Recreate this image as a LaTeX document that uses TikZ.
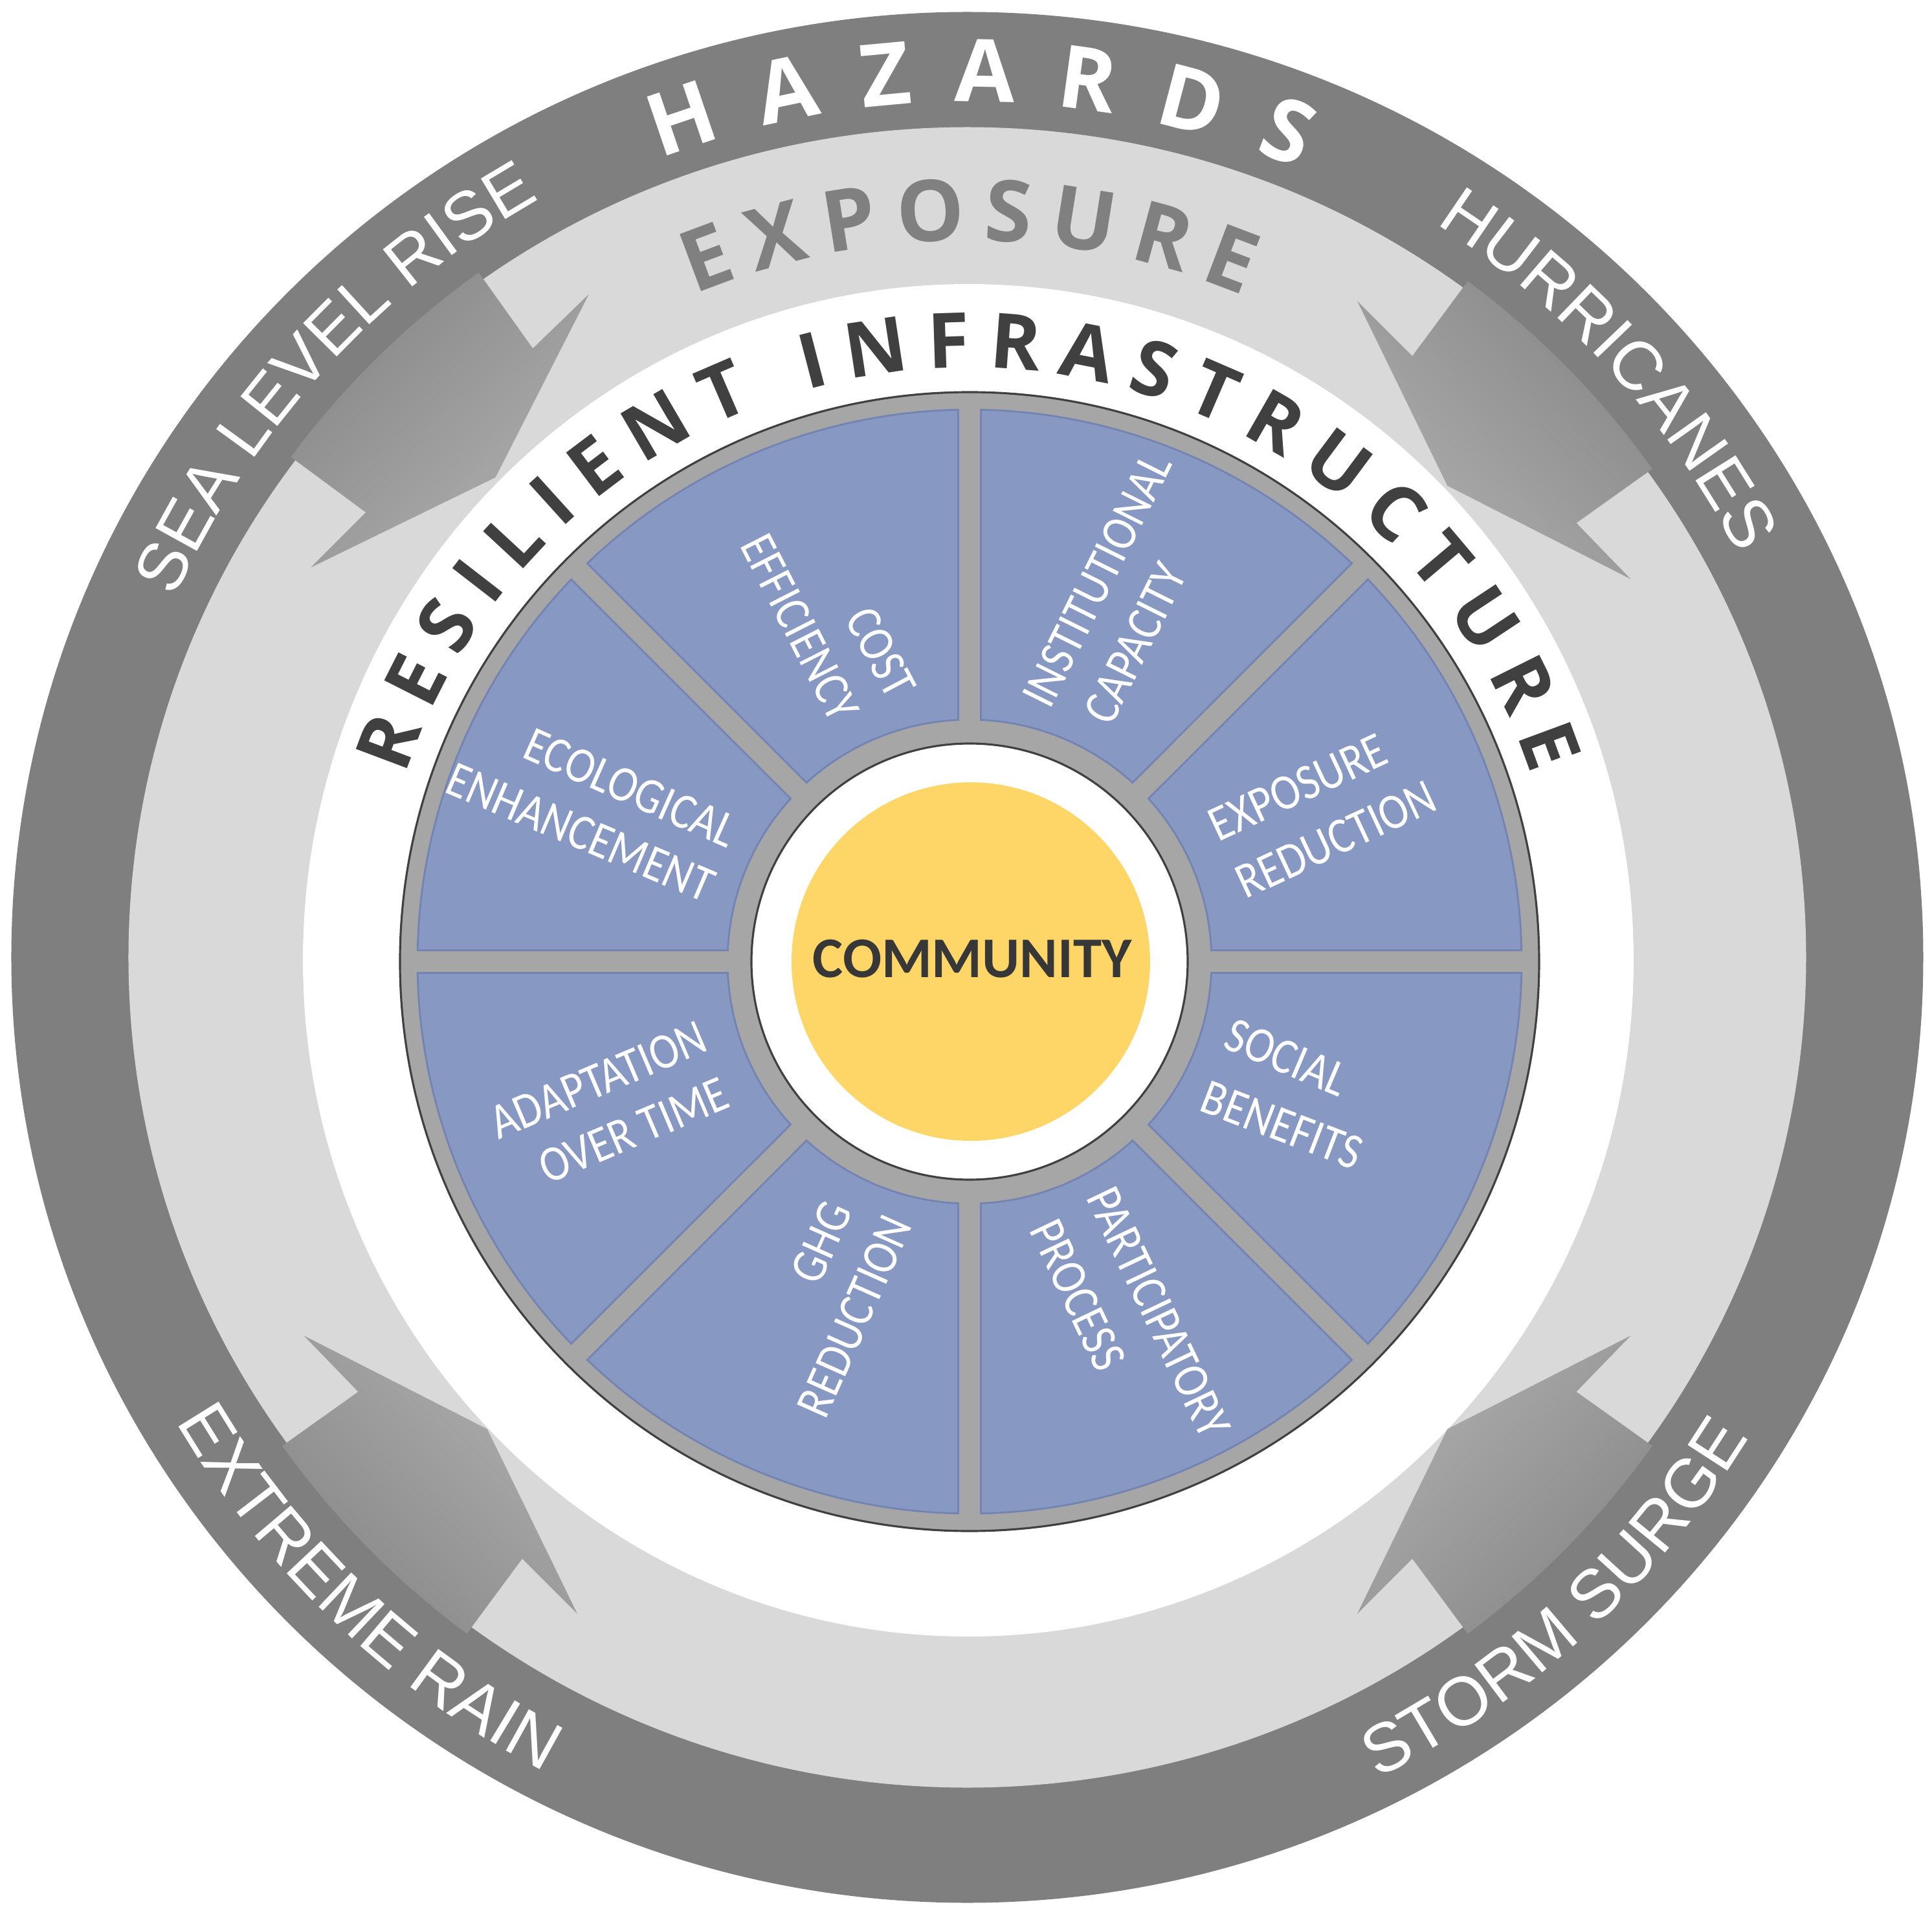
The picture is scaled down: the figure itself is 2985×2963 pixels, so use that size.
\documentclass[tikz,border=0pt]{standalone}
\usepackage{fontspec}
\newfontfamily\hazfont{Open Sans}
\newfontfamily\labfont{Liberation Sans}
\newfontfamily\secfont[FakeStretch=0.87]{Carlito}
\newfontfamily\comfont{Carlito}

\definecolor{darkring}{RGB}{127,127,127}
\definecolor{lightring}{RGB}{217,217,217}
\definecolor{diskgray}{RGB}{166,166,166}
\definecolor{diskline}{RGB}{64,64,64}
\definecolor{sectorblue}{RGB}{135,152,195}
\definecolor{sectoredge}{RGB}{116,132,178}
\definecolor{commyellow}{RGB}{254,214,104}
\definecolor{commtext}{RGB}{55,55,55}
\definecolor{restext}{RGB}{64,64,64}
\definecolor{exptext}{RGB}{128,128,128}
\definecolor{arrowdark}{RGB}{136,136,136}
\definecolor{arrowlight}{RGB}{174,174,174}

\newdimen\arcwdim
\newcommand\arcmeasure[2]{%
  \setbox0=\hbox{\pgfinterruptpicture#1#2\endpgfinterruptpicture}\global\arcwdim=\wd0\relax}
% #1 name prefix, #2 font, #3 colour, #4 centre angle, #5 baseline radius,
% #6 tracking (px), #7 letters, #8 direction (1: clockwise, tops out; -1: counter-clockwise, tops in)
\newcommand\arcword[8]{%
  \gdef\arctot{0}%
  \foreach \ch in {#7}{%
    \arcmeasure{#2}{\ch}%
    \pgfmathsetmacro\arcnew{\arctot+\the\arcwdim/0.28453+#6}%
    \xdef\arctot{\arcnew}%
  }%
  \pgfmathsetmacro\arclen{\arctot-#6}%
  \gdef\arcpos{0}%
  \foreach \ch [count=\i] in {#7}{%
    \arcmeasure{#2}{\ch}%
    \pgfmathsetmacro\arcwd{\the\arcwdim/0.28453}%
    \pgfmathsetmacro\arcang{#4+#8*(\arclen/2-\arcpos-\arcwd/2)/(#5)*180/pi}%
    \pgfmathsetmacro\arcrot{\arcang-#8*90}%
    \node[rotate=\arcrot, anchor=base, inner sep=0pt, text=#3] (#1\i) at (\arcang:#5) {#2\ch};%
    \pgfmathsetmacro\arcnew{\arcpos+\arcwd+#6}%
    \xdef\arcpos{\arcnew}%
  }%
}

\tikzset{
  sectortext/.style={text=white, font=\secfont\fontsize{22.2}{24}\selectfont, inner sep=0pt},
}

\begin{document}
\begin{tikzpicture}[x=0.01cm, y=0.01cm]
\useasboundingbox (-1494.5,-1483.5) rectangle (1490.5,1479.5);
\fill[white] (-1494.5,-1483.5) rectangle (1490.5,1479.5);

% rings
\fill[darkring] (0,0) ellipse[x radius=1477, y radius=1461];
\fill[lightring] (0,0) ellipse[x radius=1296, y radius=1283];
\fill[white] (1.5,-4.5) ellipse[x radius=1028, y radius=1045];

% arrows
\foreach \a in {134.5,44.5,224.5,315.5}{
  \pgfmathsetmacro\sa{\a-90}
  \shade[top color=arrowdark, bottom color=arrowlight, shading angle=\sa]
    ({\a+9}:1300) -- ({\a+9}:1156) -- ({\a+14.8}:1180) -- (\a:1040)
    -- ({\a-14.8}:1180) -- ({\a-9}:1156) -- ({\a-9}:1300)
    arc[start angle={\a-9}, end angle={\a+9}, radius=1300] -- cycle;
}

% central disk
\begin{scope}[shift={(3.5,-6.5)}]
  \fill[diskgray, draw=diskline, line width=0.9pt] (0,0) circle[radius=880];
  \foreach \k in {0,...,7}{
    \pgfmathsetmacro\aa{45*\k}
    \fill[sectorblue, draw=sectoredge, line width=0.8pt]
      ({\aa+1.18}:853) arc[start angle={\aa+1.18}, end angle={\aa+43.82}, radius=853]
      -- ({\aa+42.32}:374) arc[start angle={\aa+42.32}, end angle={\aa+2.68}, radius=374] -- cycle;
  }
  \fill[white, draw=diskline, line width=0.9pt] (0,0) circle[radius=337];
\end{scope}
\fill[commyellow] (5.5,-6.5) circle[radius=277];
\node[font=\comfont\bfseries\fontsize{25.3}{27}\selectfont, text=commtext, inner sep=0pt] (community) at (7.5,-2.5) {COMMUNITY};

% ring titles
\arcword{haz}{\hazfont\bfseries\fontsize{38.2}{40}\selectfont}{white}{89.1}{1322}{64}{H,A,Z,A,R,D,S}{1}
\arcword{exp}{\hazfont\bfseries\fontsize{37.5}{40}\selectfont}{exptext}{89.85}{1108}{27}{E,X,P,O,S,U,R,E}{1}
\begin{scope}[shift={(1.5,-4.5)}]
\arcword{res}{\hazfont\bfseries\fontsize{33.6}{36}\selectfont}{restext}{90}{916}{28}{R,E,S,I,L,I,E,N,T,~,I,N,F,R,A,S,T,R,U,C,T,U,R,E}{1}
\end{scope}

% hazard labels
\arcword{slr}{\labfont\fontsize{30.2}{32}\selectfont}{white}{137.5}{1345}{0}{S,E,A,~,L,E,V,E,L,~,R,I,S,E}{1}
\arcword{hur}{\labfont\fontsize{30.2}{32}\selectfont}{white}{42.5}{1345}{0}{H,U,R,R,I,C,A,N,E,S}{1}
\arcword{rain}{\labfont\fontsize{30.2}{32}\selectfont}{white}{226.5}{1418}{0}{E,X,T,R,E,M,E,~,R,A,I,N}{-1}
\arcword{surge}{\labfont\fontsize{30.2}{32}\selectfont}{white}{312.5}{1418}{0}{S,T,O,R,M,~,S,U,R,G,E}{-1}

% sector texts
\node[sectortext, rotate=-62] (cost) at (-133.5,471.5) {COST};
\node[sectortext, rotate=-63] (efficiency) at (-258.5,509.5) {EFFICIENCY};
\node[sectortext, rotate=63.5] (institutional) at (200.5,583.5) {INSTITUTIONAL};
\node[sectortext, rotate=63.5] (capacity) at (259.5,485.5) {CAPACITY};
\node[sectortext, rotate=-24] (ecological) at (-520.5,262) {ECOLOGICAL};
\node[sectortext, rotate=-23] (enhancement) at (-597.5,193) {ENHANCEMENT};
\node[sectortext, rotate=25] (exposure) at (510.5,262.5) {EXPOSURE};
\node[sectortext, rotate=25] (reduction) at (569.5,182.5) {REDUCTION};
\node[sectortext, rotate=23] (adaptation) at (-570.5,-189.5) {ADAPTATION};
\node[sectortext, rotate=23] (overtime) at (-515.5,-267.5) {OVER TIME};
\node[sectortext, rotate=-23] (social) at (493.5,-154.5) {SOCIAL};
\node[sectortext, rotate=-21] (benefits) at (486.5,-259.5) {BENEFITS};
\node[sectortext, rotate=66] (ghg) at (-225.5,-440.5) {GHG};
\node[sectortext, rotate=66] (ghgreduction) at (-174.5,-554.5) {REDUCTION};
\node[sectortext, rotate=-64.5] (participatory) at (295.5,-548.5) {PARTICIPATORY};
\node[sectortext, rotate=-64.5] (process) at (170.5,-521.5) {PROCESS};
\end{tikzpicture}
\end{document}
